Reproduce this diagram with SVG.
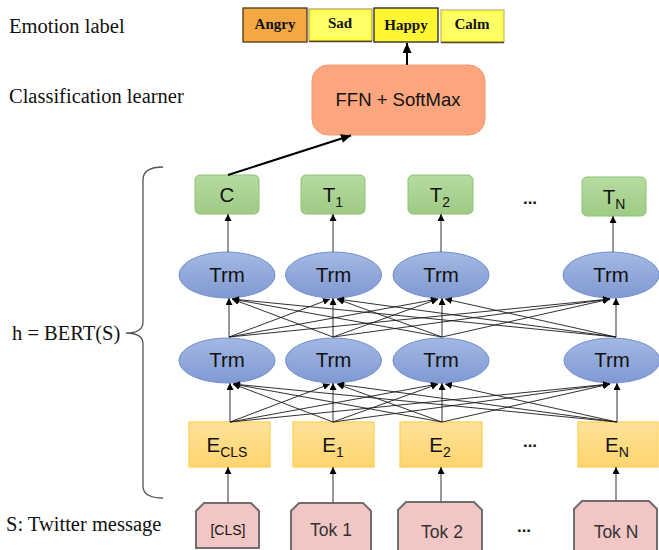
<svg xmlns="http://www.w3.org/2000/svg" width="659" height="550" viewBox="0 0 659 550">
<defs>
<marker id="ah" markerUnits="userSpaceOnUse" markerWidth="8" markerHeight="8" refX="7" refY="3.5" orient="auto"><path d="M0,0 L7,3.5 L0,7 z" fill="#000"/></marker>
<marker id="ahb" markerUnits="userSpaceOnUse" markerWidth="12" markerHeight="10" refX="10" refY="4.5" orient="auto"><path d="M0,0 L10,4.5 L0,9 z" fill="#000"/></marker>
<linearGradient id="gG" x1="0" y1="0" x2="0" y2="1"><stop offset="0" stop-color="#b6dba0"/><stop offset="1" stop-color="#9fcb85"/></linearGradient>
<linearGradient id="gB" x1="0" y1="0" x2="0" y2="1"><stop offset="0" stop-color="#a3b8e2"/><stop offset="1" stop-color="#8099d2"/></linearGradient>
<linearGradient id="gY" x1="0" y1="0" x2="0" y2="1"><stop offset="0" stop-color="#ffe29a"/><stop offset="1" stop-color="#fed46e"/></linearGradient>
</defs>
<style>
.lbl{font-family:"Liberation Serif","Times New Roman",serif;font-size:20.5px;fill:#111}
.emo{font-family:"Liberation Serif","Times New Roman",serif;font-size:15px;font-weight:bold;fill:#111;text-anchor:middle}
.t{font-family:"Liberation Sans",Arial,sans-serif;fill:#111;text-anchor:middle}
.big{font-size:20.5px}
.tok{font-size:17.5px;fill:#333}
.green{fill:url(#gG);stroke:#8cc273;stroke-width:1}
.trm{fill:url(#gB);stroke:#6f8fcf;stroke-width:1}
.emb{fill:url(#gY);stroke:#ffcd4f;stroke-width:1.2}
.tk{fill:#f3c6c6;stroke:#6e6e6e;stroke-width:2}
.c{stroke:#1a1a1a;stroke-width:0.9;fill:none;marker-end:url(#ah)}
.v{stroke:#555;stroke-width:1.2;fill:none;marker-end:url(#ah)}
.dots{font-family:"Liberation Sans",Arial,sans-serif;font-size:17px;font-weight:bold;fill:#111;text-anchor:middle}
</style>

<g id="left-labels">
<text class="lbl" x="9" y="33">Emotion label</text>
<text class="lbl" x="9" y="103">Classification learner</text>
<text class="lbl" x="12" y="340">h = BERT(S)</text>
<text class="lbl" x="6" y="531">S: Twitter message</text>
<path d="M163,167 Q143,167 143,180 L143,322 Q143,333 126,333 Q143,333 143,344 L143,486 Q143,498 163,498" fill="none" stroke="#555" stroke-width="1.3"/>
</g>

<g id="emotions">
<g id="angry"><rect x="243" y="8" width="64" height="34" fill="#f4a843" stroke="#4d3510" stroke-width="1.3"/><text class="emo" x="275" y="29">Angry</text></g>
<g id="sad"><rect x="309" y="9" width="63" height="32" fill="#ffff40" stroke="#b8a870" stroke-width="1.3"/><rect x="312" y="12" width="57" height="26" fill="#ffff66"/><line x1="309" y1="41.5" x2="372" y2="41.5" stroke="#5a4418" stroke-width="1.3"/><text class="emo" x="340" y="28">Sad</text></g>
<g id="happy"><rect x="374" y="8" width="64" height="34" fill="#fff533" stroke="#222" stroke-width="1.3"/><text class="emo" x="406" y="30">Happy</text></g>
<g id="calm"><rect x="441" y="10" width="63" height="32" fill="#ffff40" stroke="#c8b880" stroke-width="1.3"/><rect x="444" y="13" width="57" height="26" fill="#ffff66"/><line x1="441" y1="42.5" x2="504" y2="42.5" stroke="#5a4418" stroke-width="1.3"/><text class="emo" x="472" y="29">Calm</text></g>
</g>

<g id="ffn"><rect x="312" y="65" width="173" height="70" rx="16" fill="#fca67f" stroke="#f39a72" stroke-width="1"/><text class="t" x="398" y="106" font-size="18.5">FFN + SoftMax</text></g>

<g id="outputs">
<g id="C"><rect class="green" x="195" y="175" width="64" height="39" rx="5"/><text class="t big" x="227" y="202">C</text></g>
<g id="T1"><rect class="green" x="301" y="175" width="64" height="39" rx="5"/><text class="t big" x="333" y="202">T<tspan font-size="14" dy="5">1</tspan></text></g>
<g id="T2"><rect class="green" x="408" y="175" width="65" height="39" rx="5"/><text class="t big" x="440" y="202">T<tspan font-size="14" dy="5">2</tspan></text></g>
<g id="TN"><rect class="green" x="582" y="177" width="64" height="39" rx="5"/><text class="t big" x="614" y="204">T<tspan font-size="14" dy="5">N</tspan></text></g>
<text class="dots" x="530" y="204">...</text>
</g>

<g id="trm-upper">
<g id="tu1"><ellipse class="trm" cx="227" cy="275" rx="48" ry="23"/><text class="t big" x="227" y="282">Trm</text></g>
<g id="tu2"><ellipse class="trm" cx="333.5" cy="275" rx="48" ry="23"/><text class="t big" x="333.5" y="282">Trm</text></g>
<g id="tu3"><ellipse class="trm" cx="441" cy="275" rx="48" ry="23"/><text class="t big" x="441" y="282">Trm</text></g>
<g id="tu4"><ellipse class="trm" cx="611" cy="275" rx="48" ry="23"/><text class="t big" x="611" y="282">Trm</text></g>
</g>

<g id="trm-lower">
<g id="tl1"><ellipse class="trm" cx="227" cy="360.5" rx="48" ry="22.5"/><text class="t big" x="227" y="367">Trm</text></g>
<g id="tl2"><ellipse class="trm" cx="333.5" cy="360.5" rx="48" ry="22.5"/><text class="t big" x="333.5" y="367">Trm</text></g>
<g id="tl3"><ellipse class="trm" cx="441" cy="360.5" rx="48" ry="22.5"/><text class="t big" x="441" y="367">Trm</text></g>
<g id="tl4"><ellipse class="trm" cx="612" cy="360.5" rx="48" ry="22.5"/><text class="t big" x="612" y="367">Trm</text></g>
</g>

<g id="embeddings">
<g id="ECLS"><rect class="emb" x="189" y="422" width="81" height="45"/><text class="t big" x="227" y="452">E<tspan font-size="14" dy="5">CLS</tspan></text></g>
<g id="E1"><rect class="emb" x="293" y="422" width="81" height="45"/><text class="t big" x="333" y="452">E<tspan font-size="14" dy="5">1</tspan></text></g>
<g id="E2"><rect class="emb" x="400" y="422" width="82" height="45"/><text class="t big" x="440" y="452">E<tspan font-size="14" dy="5">2</tspan></text></g>
<g id="EN"><rect class="emb" x="578" y="422" width="80" height="45"/><text class="t big" x="617" y="452">E<tspan font-size="14" dy="5">N</tspan></text></g>
<text class="dots" x="530" y="447">...</text>
</g>

<g id="tokens">
<g id="tCLS"><path class="tk" d="M196,548 V511 L204,503 H251 L259,511 V548 Z"/><text class="t" x="228" y="535" font-size="14" fill="#333">[CLS]</text></g>
<g id="tok1"><path class="tk" d="M291,553 V511 L299,503 H363 L371,511 V553 Z"/><text class="t tok" x="331" y="536">Tok 1</text></g>
<g id="tok2"><path class="tk" d="M398,553 V510 L406,502 H474 L482,510 V553 Z"/><text class="t tok" x="442" y="538">Tok 2</text></g>
<g id="tokN"><path class="tk" d="M574,553 V509 L582,501 H649 L657,509 V553 Z"/><text class="t tok" x="616" y="538">Tok N</text></g>
<text class="dots" x="524" y="532">...</text>
</g>

<g id="connectors">
<line x1="407" y1="65" x2="407" y2="43" stroke="#000" stroke-width="2" marker-end="url(#ahb)"/>
<line x1="228" y1="175" x2="351" y2="135.5" stroke="#000" stroke-width="2" marker-end="url(#ahb)"/>

<line class="v" x1="228" y1="252" x2="228" y2="214"/>
<line class="v" x1="333" y1="252" x2="333" y2="214"/>
<line class="v" x1="441" y1="252" x2="441" y2="214"/>
<line class="v" x1="613" y1="252" x2="613" y2="216"/>

<line class="v" x1="229" y1="337" x2="229" y2="298"/>
<line class="v" x1="333" y1="337" x2="333" y2="298"/>
<line class="v" x1="442" y1="337" x2="442" y2="298"/>
<line class="v" x1="616" y1="337" x2="616" y2="298"/>
<line class="c" x1="229" y1="337" x2="330" y2="299"/>
<line class="c" x1="229" y1="337" x2="438" y2="299"/>
<line class="c" x1="229" y1="337" x2="610" y2="299"/>
<line class="c" x1="333" y1="337" x2="232" y2="299"/>
<line class="c" x1="333" y1="337" x2="438" y2="299"/>
<line class="c" x1="333" y1="337" x2="610" y2="299"/>
<line class="c" x1="442" y1="337" x2="232" y2="299"/>
<line class="c" x1="442" y1="337" x2="337" y2="299"/>
<line class="c" x1="442" y1="337" x2="610" y2="299"/>
<line class="c" x1="616" y1="337" x2="232" y2="299"/>
<line class="c" x1="616" y1="337" x2="337" y2="299"/>
<line class="c" x1="616" y1="337" x2="445" y2="299"/>

<line class="v" x1="230" y1="422" x2="230" y2="383"/>
<line class="v" x1="333" y1="422" x2="333" y2="383"/>
<line class="v" x1="442" y1="422" x2="442" y2="383"/>
<line class="v" x1="617" y1="422" x2="617" y2="383"/>
<line class="c" x1="230" y1="422" x2="330" y2="384"/>
<line class="c" x1="230" y1="422" x2="438" y2="384"/>
<line class="c" x1="230" y1="422" x2="610" y2="384"/>
<line class="c" x1="333" y1="422" x2="233" y2="384"/>
<line class="c" x1="333" y1="422" x2="438" y2="384"/>
<line class="c" x1="333" y1="422" x2="610" y2="384"/>
<line class="c" x1="442" y1="422" x2="233" y2="384"/>
<line class="c" x1="442" y1="422" x2="337" y2="384"/>
<line class="c" x1="442" y1="422" x2="610" y2="384"/>
<line class="c" x1="617" y1="422" x2="233" y2="384"/>
<line class="c" x1="617" y1="422" x2="337" y2="384"/>
<line class="c" x1="617" y1="422" x2="445" y2="384"/>

<line class="v" x1="228" y1="503" x2="228" y2="467"/>
<line class="v" x1="333" y1="503" x2="333" y2="467"/>
<line class="v" x1="441" y1="502" x2="441" y2="467"/>
<line class="v" x1="616" y1="501" x2="616" y2="467"/>
</g>
</svg>
